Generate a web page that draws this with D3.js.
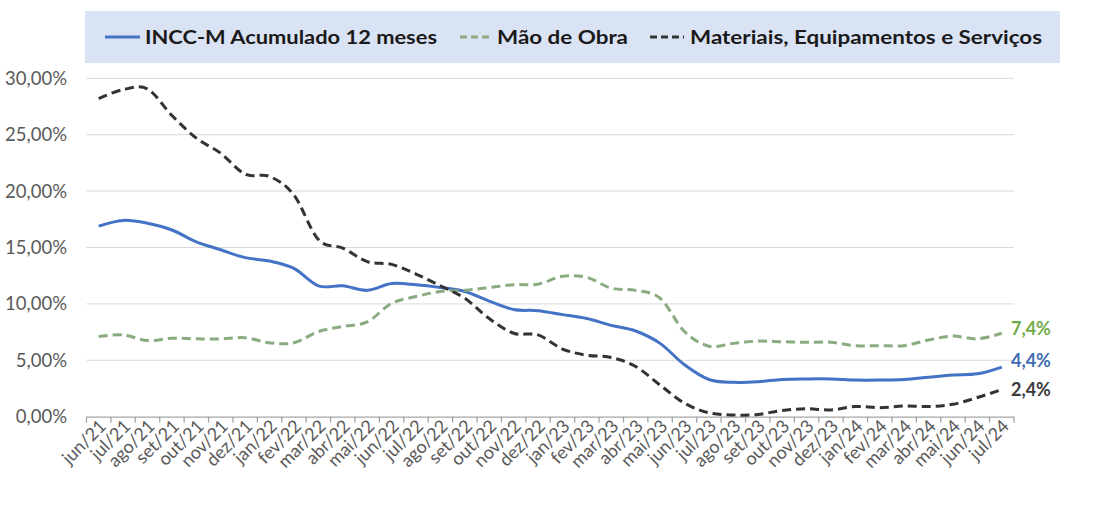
<!DOCTYPE html>
<html><head><meta charset="utf-8">
<script src="https://cdn.jsdelivr.net/npm/d3@7"></script>
<style>
body{margin:0;background:#fff;}
svg{display:block;font-family:Lato,"Open Sans",sans-serif;}
</style>
</head><body><svg id="c" width="1097" height="510"></svg>
<script>
const categories = ["jun/21","jul/21","ago/21","set/21","out/21","nov/21","dez/21",
 "jan/22","fev/22","mar/22","abr/22","mai/22","jun/22","jul/22","ago/22","set/22","out/22","nov/22","dez/22",
 "jan/23","fev/23","mar/23","abr/23","mai/23","jun/23","jul/23","ago/23","set/23","out/23","nov/23","dez/23",
 "jan/24","fev/24","mar/24","abr/24","mai/24","jun/24","jul/24"];
const incc = [16.9,17.4,17.15,16.55,15.5,14.8,14.1,13.8,13.15,11.6,11.6,11.2,11.8,11.7,11.45,11.1,10.25,9.5,9.4,
 9.05,8.7,8.1,7.6,6.5,4.6,3.3,3.05,3.1,3.3,3.35,3.35,3.25,3.25,3.3,3.5,3.7,3.8,4.4];
const maoDeObra = [7.1,7.25,6.75,6.95,6.9,6.9,7.0,6.55,6.55,7.55,8.0,8.4,10.05,10.65,11.1,11.2,11.45,11.7,11.75,
 12.45,12.35,11.4,11.2,10.5,7.55,6.25,6.5,6.7,6.65,6.6,6.6,6.3,6.3,6.3,6.8,7.15,6.9,7.4];
const materiais = [28.2,29.0,29.05,26.7,24.7,23.35,21.5,21.3,19.65,15.7,14.95,13.75,13.5,12.65,11.6,10.5,8.7,7.4,7.25,
 6.0,5.45,5.25,4.45,2.8,1.2,0.35,0.15,0.2,0.55,0.7,0.6,0.9,0.8,0.95,0.9,1.1,1.7,2.4];
const yTicks = [0,5,10,15,20,25,30];
const seriesNames = ["INCC-M Acumulado 12 meses","Mão de Obra","Materiais, Equipamentos e Serviços"];
const endLabels = ["4,4%","7,4%","2,4%"];

const svg = d3.select("#c");
const x = d3.scaleBand().domain(categories).range([86.5,1014]);
const cx = c => x(c) + x.bandwidth()/2;
const y = d3.scaleLinear().domain([0,30]).range([416.7,78.3]);
const fmt = v => d3.format(".2f")(v).replace(".",",") + "%";

// gridlines
svg.append("g").selectAll("line").data(yTicks.filter(t=>t>0)).join("line")
  .attr("x1",86.5).attr("x2",1014).attr("y1",d=>y(d)).attr("y2",d=>y(d))
  .attr("stroke","#d9d9d9").attr("stroke-width",1);

// y labels
svg.append("g").selectAll("text").data(yTicks).join("text")
  .attr("x",67).attr("y",d=>y(d)).attr("dy","0.35em").attr("text-anchor","end")
  .attr("fill","#595959").attr("font-size",18.5).text(fmt);

// x axis
const xAxis = d3.axisBottom(x).tickSize(0).tickFormat("");
const gx = svg.append("g").attr("transform","translate(0,416.7)").call(xAxis);
gx.select(".domain").attr("stroke","#a6a6a6").attr("stroke-width",1.3);
const bounds = categories.map(c=>x(c)).concat([x(categories[categories.length-1])+x.bandwidth()]);
gx.selectAll(".bt").data(bounds).join("line").attr("class","bt")
  .attr("x1",d=>d).attr("x2",d=>d).attr("y1",0).attr("y2",6)
  .attr("stroke","#a6a6a6").attr("stroke-width",1.3);
svg.append("g").selectAll("text").data(categories).join("text")
  .attr("transform",d=>`translate(${cx(d)+4},${423}) rotate(-45)`)
  .attr("text-anchor","end").attr("dy","0.35em")
  .attr("fill","#595959").attr("font-size",18).text(d=>d);

// lines
const line = d3.line().x((d,i)=>cx(categories[i])).y(d=>y(d)).curve(d3.curveCardinal.tension(0));
const series = [
  {vals:incc, color:"#4472c4", dash:null, label:endLabels[0], lc:"#3f6db3", off:-6},
  {vals:maoDeObra, color:"#8aab80", dash:"9,5", label:endLabels[1], lc:"#70ad47", off:-5},
  {vals:materiais, color:"#333333", dash:"9,5", label:endLabels[2], lc:"#3a3a3a", off:0}
];
series.forEach(s=>{
  svg.append("path").datum(s.vals).attr("d",line).attr("fill","none")
    .attr("stroke",s.color).attr("stroke-width",3)
    .attr("stroke-dasharray",s.dash).attr("stroke-linecap","butt");
});
series.forEach(s=>{
  svg.append("text").attr("x",1011).attr("y",y(s.vals[s.vals.length-1])+s.off)
    .attr("dy","0.35em").attr("font-size",18).attr("font-weight","bold")
    .attr("fill",s.lc).text(s.label);
});

// legend
const lg = svg.append("g");
lg.append("rect").attr("x",85).attr("y",11).attr("width",975).attr("height",52).attr("fill","#dae3f3");
const items = [
  {x1:105,x2:140,tx:145,tw:292,color:"#4472c4",dash:null},
  {x1:460,x2:491,tx:497,tw:131,color:"#8aab80",dash:"7,4"},
  {x1:650,x2:684,tx:690,tw:352,color:"#333333",dash:"7,4"}
];
items.forEach((it,i)=>{
  lg.append("line").attr("x1",it.x1).attr("x2",it.x2).attr("y1",37).attr("y2",37)
    .attr("stroke",it.color).attr("stroke-width",3).attr("stroke-dasharray",it.dash);
  lg.append("text").attr("x",it.tx).attr("y",37).attr("dy","0.35em")
    .attr("font-size",19).attr("font-weight","bold").attr("fill","#1a1a1a")
    .attr("textLength",it.tw).attr("lengthAdjust","spacingAndGlyphs")
    .text(seriesNames[i]);
});
</script></body></html>
